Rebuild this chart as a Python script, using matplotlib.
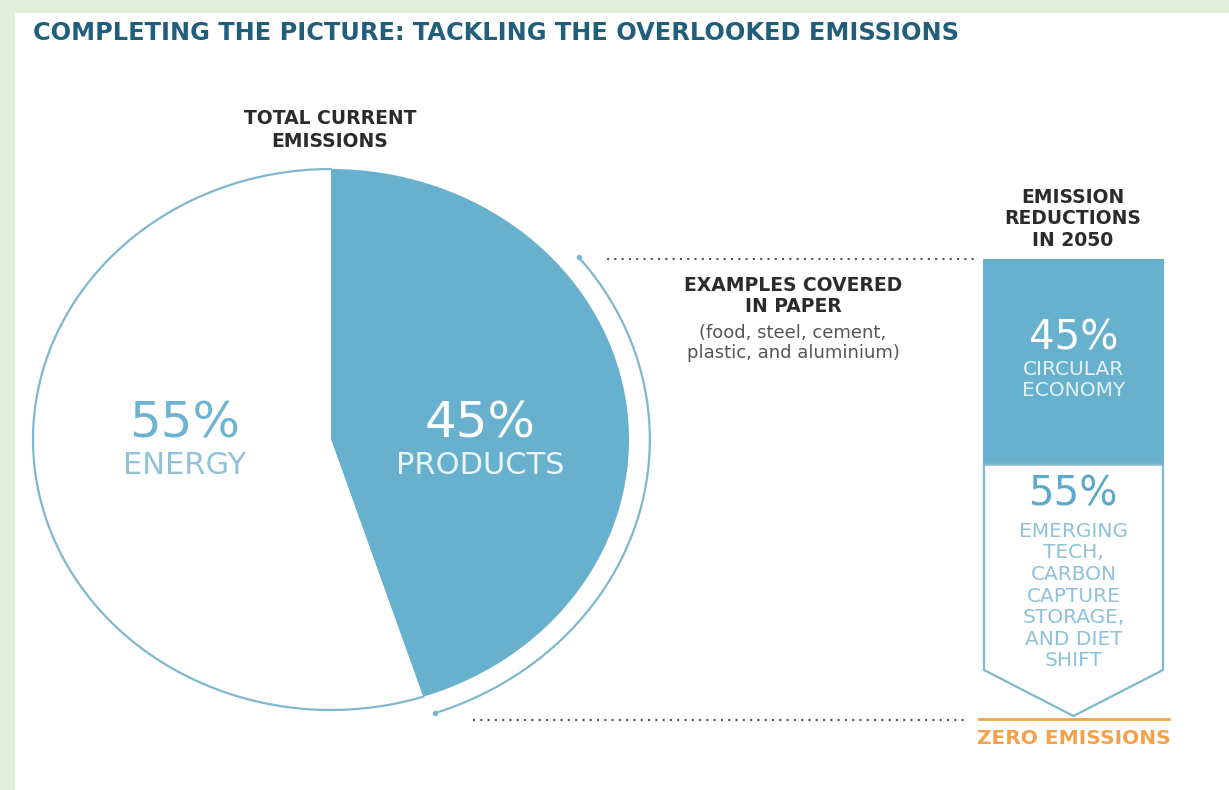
import matplotlib.pyplot as plt
import numpy as np
from matplotlib.patches import Rectangle, Polygon

# data
pie_labels = ["PRODUCTS", "ENERGY"]
pie_shares = [45, 55]
reduction_labels = ["CIRCULAR\nECONOMY",
                    "EMERGING\nTECH,\nCARBON\nCAPTURE\nSTORAGE,\nAND DIET\nSHIFT"]
reduction_shares = [45, 55]

BLUE = "#67b1cf"
OUTLINE = "#80b7d0"
LIGHT_TXT = "#6db3d2"
PALE_TXT = "#8fc2d9"
DARK = "#2b2b2b"
TITLE_C = "#215e7c"
ORANGE = "#f3a24b"
GREEN_BG = "#e3efda"

W, H = 1229, 790
fig = plt.figure(figsize=(W / 100, H / 100), dpi=100, facecolor=GREEN_BG)

# background axes in pixel coordinates (y down)
bg = fig.add_axes([0, 0, 1, 1])
bg.set_xlim(0, W)
bg.set_ylim(H, 0)
bg.axis("off")
bg.add_patch(Rectangle((15, 13), W - 15, H - 13, facecolor="white", edgecolor="none"))

bg.text(33, 33, "COMPLETING THE PICTURE: TACKLING THE OVERLOOKED EMISSIONS",
        fontsize=17.3, fontweight="heavy", color=TITLE_C, ha="left", va="center")

bg.text(330, 130, "TOTAL CURRENT\nEMISSIONS", fontsize=13.5, fontweight="bold",
        color=DARK, ha="center", va="center", linespacing=1.3)

# dotted guide lines
bg.plot([607, 975], [259, 259], color="#555555", lw=1.5, ls=(0, (1, 2.5)))
bg.plot([473, 965], [720, 720], color="#555555", lw=1.5, ls=(0, (1, 2.5)))

bg.text(793, 296, "EXAMPLES COVERED\nIN PAPER", fontsize=13.5, fontweight="bold",
        color=DARK, ha="center", va="center", linespacing=1.15)
bg.text(793, 343, "(food, steel, cement,\nplastic, and aluminium)", fontsize=13,
        color="#555555", ha="center", va="center", linespacing=1.2)

bg.text(1073, 219, "EMISSION\nREDUCTIONS\nIN 2050", fontsize=13.5, fontweight="bold",
        color=DARK, ha="center", va="center", linespacing=1.15)

# reduction column
top, tip = 259, 716
x0, x1 = 983, 1164
xm = (x0 + x1) / 2
split = top + reduction_shares[0] / sum(reduction_shares) * (tip - top)
bg.add_patch(Rectangle((x0, top), x1 - x0, split - top, facecolor=BLUE, edgecolor="none"))
bg.add_patch(Polygon([(x0 + 1, split), (x1 - 1, split), (x1 - 1, tip - 46),
                      (xm, tip), (x0 + 1, tip - 46)], closed=True,
                     facecolor="white", edgecolor=OUTLINE, lw=1.6))

bg.text(xm, 338, f"{reduction_shares[0]}%", fontsize=29, color="white",
        ha="center", va="center")
bg.text(xm, 380, reduction_labels[0], fontsize=14.5, color="#e4f2f8",
        ha="center", va="center", linespacing=1.15)
bg.text(xm, 495, f"{reduction_shares[1]}%", fontsize=29, color="#5ea8cb",
        ha="center", va="center")
bg.text(xm, 596, reduction_labels[1], fontsize=14.5, color=PALE_TXT,
        ha="center", va="center", linespacing=1.17)

bg.plot([979, 1169], [719, 719], color=ORANGE, lw=2)
bg.text(xm, 738, "ZERO EMISSIONS", fontsize=14.5, fontweight="bold", color=ORANGE,
        ha="center", va="center")

# pie (elliptical: aspect set back to auto)
px0, px1, py0, py1 = 33, 629, 169, 710
ax = fig.add_axes([px0 / W, 1 - py1 / H, (px1 - px0) / W, (py1 - py0) / H])
ax.pie(pie_shares, colors=[BLUE, "white"], startangle=90, counterclock=False,
       wedgeprops=dict(linewidth=0))
ax.set_aspect("auto")
ax.set_xlim(-1, 1)
ax.set_ylim(-1, 1)
ax.axis("off")

# outline around the energy part
a_end = 360 * pie_shares[0] / sum(pie_shares)
t = np.radians(np.linspace(a_end, 360, 300))
ax.plot(np.sin(t), np.cos(t), color=OUTLINE, lw=1.6, clip_on=False)

# outer bracket arc along products slice
t2 = np.radians(np.linspace(51, a_end - 1, 200))
r2 = 1.07
ax.plot(r2 * np.sin(t2), r2 * np.cos(t2), color=OUTLINE, lw=1.6, clip_on=False)
ax.plot([r2 * np.sin(t2[0]), r2 * np.sin(t2[-1])], [r2 * np.cos(t2[0]), r2 * np.cos(t2[-1])],
        "o", ms=3, color=OUTLINE, clip_on=False)

ax.text(-0.49, 0.06, f"{pie_shares[1]}%", fontsize=36, color=LIGHT_TXT,
        ha="center", va="center")
ax.text(-0.49, -0.095, pie_labels[1], fontsize=22, color=PALE_TXT,
        ha="center", va="center")
ax.text(0.5, 0.06, f"{pie_shares[0]}%", fontsize=36, color="white",
        ha="center", va="center")
ax.text(0.5, -0.095, pie_labels[0], fontsize=22, color="#eaf5fa",
        ha="center", va="center")

fig.savefig("out.png", dpi=100, facecolor=GREEN_BG)
